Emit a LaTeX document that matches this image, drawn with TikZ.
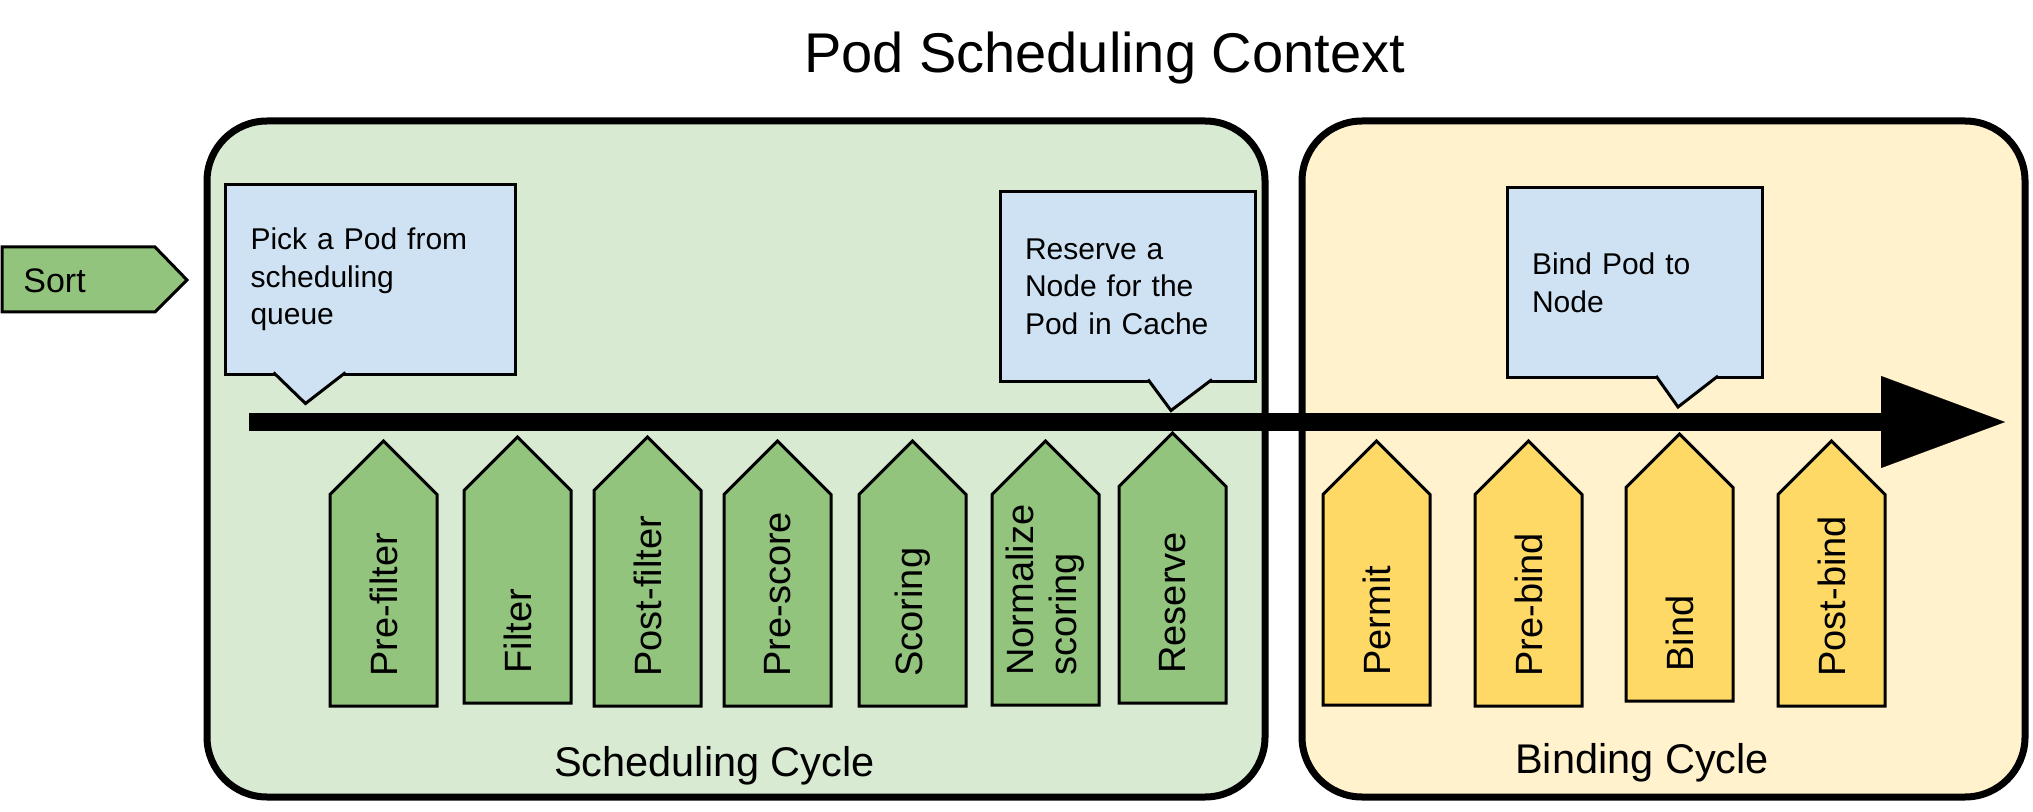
\documentclass[tikz,border=0pt]{standalone}
\usepackage{fontspec}
\setmainfont{Liberation Sans}
\usepackage{xcolor}
\usepackage{tikz}
\usetikzlibrary{arrows.meta, calc}
\definecolor{sgreen}{HTML}{93C47D}
\definecolor{sgreenbg}{HTML}{D9EAD3}
\definecolor{byellow}{HTML}{FFD966}
\definecolor{byellowbg}{HTML}{FFF2CC}
\definecolor{noteblue}{HTML}{CFE2F3}
\tikzset{cyclebox/.style={draw=black, line width=3.5pt, rounded corners=30pt}, cyclelabel/.style={anchor=base, inner sep=0pt, font=\fontsize{20.75}{24}\selectfont}}
\tikzset{stagebox/.style={draw=black, line width=1.5pt, line join=miter}, stagelabel/.style={rotate=90, anchor=west, inner sep=0pt, align=left, font=\fontsize{19}{21.5}\selectfont}}
\tikzset{note/.style={draw=black, fill=noteblue, line width=1.5pt, outer sep=0pt, inner xsep=12.5pt, inner ysep=0pt, minimum height=95pt, align=left, font=\fontsize{15}{18.75}\selectfont}, notetip/.style={draw=black, fill=noteblue, line width=1.5pt, line join=miter}}
\tikzset{flow/.style={line width=9pt, -{Triangle[length=62pt, width=46pt, line width=0.1pt]}}}

\begin{document}
\begin{tikzpicture}[x=0.5pt, y=-0.5pt]
                 \useasboundingbox (0,0) rectangle (2033,812);

                 \node[anchor=base, inner sep=0pt, font=\fontsize{28}{32}\selectfont] (title) at (1104.5,73) {Pod Scheduling Context};

                 % the two cycles
                 \filldraw[cyclebox, fill=sgreenbg] (207,121) rectangle (1265,797);
                 \filldraw[cyclebox, fill=byellowbg] (1302,121) rectangle (2025,797);
                 \node[cyclelabel] (schedcycle) at (714.5,776) {Scheduling Cycle};
                 \node[cyclelabel] (bindcycle) at (1642,773) {Binding Cycle};

                 % queue sort
                  \filldraw[stagebox, fill=sgreen] (2,247) -- (155,247) -- (187,280) -- (155,312) -- (2,312) -- cycle;
                  \node[anchor=base west, inner sep=0pt, font=\fontsize{17}{20}\selectfont] (sort) at (23,293) {Sort};

                 % time line
                  \coordinate (flowstart) at (249,422);
                  \coordinate (flowend) at (2005,422);
                  \draw[flow] (flowstart) -- (flowend);

                 % notes
                  \node[note, text width=120pt] (pick) at (370.5,279.5) {Pick a Pod from\\scheduling\\queue};
                  \node[note, text width=102.5pt] (reserve) at (1127.5,286.5) {Reserve a\\Node for the\\Pod in Cache};
                  \node[note, text width=102.5pt] (bindnote) at (1634.5,283) {Bind Pod to\\Node};
                  \foreach \cn/\ca/\ct/\cb in {pick/48/80/120, reserve/148/171/212, bindnote/149/171/211}
                      \filldraw[notetip] ($(\cn.south west)+(\ca,-2)$) -- ($(\cn.south west)+(\ct,29)$) -- ($(\cn.south west)+(\cb,-2)$);

                 % extension points
                  \foreach \px/\pt/\pb/\pname/\pcol/\ptext in {330/441/706/prefilter/sgreen/Pre-filter, 464/437/703/filter/sgreen/Filter, 594/437/706/postfilter/sgreen/Post-filter, 724/441/706/prescore/sgreen/Pre-score, 859/441/706/scoring/sgreen/Scoring, 992/441/705/normalize/sgreen/{Normalize\\scoring}, 1119/433/703/reservept/sgreen/Reserve, 1323/441/705/permit/byellow/Permit, 1475/441/706/prebind/byellow/Pre-bind, 1626/434/701/bind/byellow/Bind, 1778/441/706/postbind/byellow/Post-bind}
                  {
                   \filldraw[stagebox, fill=\pcol] (\px,\pb) -- (\px,\pt+53.5) -- (\px+53.5,\pt) -- (\px+107,\pt+53.5) -- (\px+107,\pb) -- cycle;
                   \node[stagelabel] (\pname) at (\px+53.5,\pb-29) {\ptext};
                  }

\end{tikzpicture}
\end{document}
